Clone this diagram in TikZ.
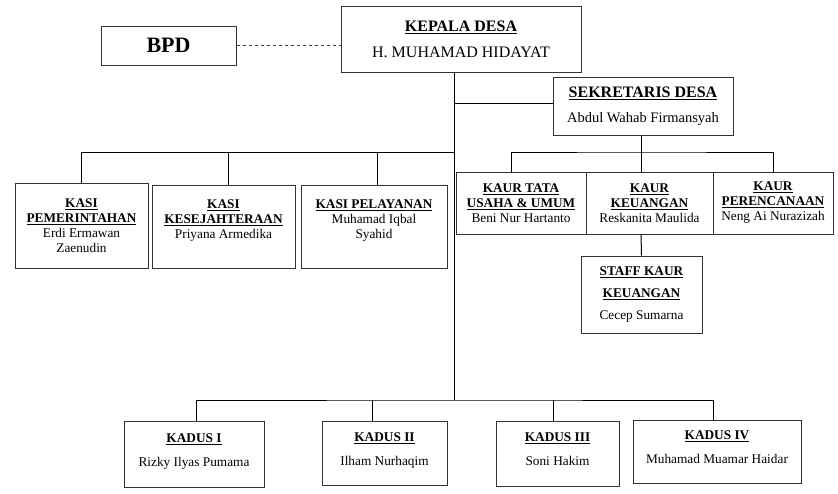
\documentclass[tikz,border=0pt]{standalone}
\usepackage{fontspec}
\setmainfont{Liberation Serif}
\usepackage{tikz}
\usetikzlibrary{positioning}

\newcommand{\jabatan}[1]{\textbf{\underline{#1}}}

\tikzset{
  box/.style={draw=black!80, line width=1pt, align=center, inner sep=1pt,
    font=\fontsize{13.3}{15}\selectfont},
  line/.style={black, line width=1pt},
  dashline/.style={black!75, line width=1pt, dash pattern=on 3.5pt off 2.5pt}
}

\begin{document}
\begin{tikzpicture}[x=1pt,y=-1pt]
\useasboundingbox (0,0) rectangle (838,493);

% top
\node[box, minimum width=135, minimum height=39, font=\fontsize{22}{24}\selectfont\bfseries] (bpd) at (168.5,45.5) {BPD};
\node[box, minimum width=240, minimum height=66, font=\fontsize{16}{19}\selectfont] (kepala) at (461,39) {\jabatan{KEPALA DESA}\\[7pt] H. MUHAMAD HIDAYAT};
\node[box, minimum width=180, minimum height=58, font=\fontsize{16}{19}\selectfont] (sekdes) at (643,106) {\jabatan{SEKRETARIS DESA}\\[6pt] {\fontsize{14.5}{17}\selectfont Abdul Wahab Firmansyah}};

% kasi
\node[box, minimum width=133, minimum height=85] (kasipem) at (81.5,225.5) {\jabatan{KASI}\\ \jabatan{PEMERINTAHAN}\\ Erdi Ermawan\\ Zaenudin};
\node[box, minimum width=143, minimum height=83] (kasikes) at (223.5,226.5) {\jabatan{KASI}\\ \jabatan{KESEJAHTERAAN}\\ Priyana Armedika\\ ~};
\node[box, minimum width=146, minimum height=83] (kasipel) at (374,226.5) {\jabatan{KASI PELAYANAN}\\ Muhamad Iqbal\\ Syahid\\ ~};

% kaur
\node[box, minimum width=130, minimum height=62] (kaurtu) at (521,203) {\jabatan{KAUR TATA}\\ \jabatan{USAHA \& UMUM}\\ Beni Nur Hartanto};
\node[box, minimum width=127, minimum height=62] (kaurkeu) at (649.5,203) {\jabatan{KAUR}\\ \jabatan{KEUANGAN}\\ Reskanita Maulida};
\node[box, minimum width=120, minimum height=62] (kaurren) at (773,203) {\jabatan{KAUR}\\ \jabatan{PERENCANAAN}\\ Neng Ai Nurazizah};
\node[box, minimum width=121, minimum height=77] (staffkeu) at (641.5,294.5) {\jabatan{STAFF KAUR}\\[7pt] \jabatan{KEUANGAN}\\[7pt] Cecep Sumarna};

% kadus
\node[box, minimum width=140, minimum height=66] (kadus1) at (194,454) {\jabatan{KADUS I}\\[9pt] Rizky Ilyas Pumama\\[-7pt] ~};
\node[box, minimum width=125, minimum height=64] (kadus2) at (384.5,453) {\jabatan{KADUS II}\\[9pt] Ilham Nurhaqim\\[-7pt] ~};
\node[box, minimum width=123, minimum height=65] (kadus3) at (557.5,453.5) {\jabatan{KADUS III}\\[9pt] Soni Hakim\\[-7pt] ~};
\node[box, minimum width=168, minimum height=63] (kadus4) at (717,451.5) {\jabatan{KADUS IV}\\[9pt] Muhamad Muamar Haidar\\[-7pt] ~};

\coordinate (kasibus) at (454,152);
\coordinate (kaurbus) at (641,152);
\coordinate (kadusbus) at (454,400);

% garis
\draw[dashline] (bpd.east) -- (bpd.east -| kepala.west);
\draw[line] (kepala.south -| kadusbus) -- (kadusbus);
\draw[line] (kepala.south -| kadusbus) |- ([yshift=3pt]sekdes.west);

\draw[line] (kasipem.north) |- (kasibus);
\draw[line] ([xshift=4.5pt]kasikes.north) -- ([xshift=4.5pt]kasikes.north |- kasibus);
\draw[line] ([xshift=3pt]kasipel.north) -- ([xshift=3pt]kasipel.north |- kasibus);

\draw[line] (sekdes.south -| kaurbus) -- (kaurbus);
\draw[line] ([xshift=-10pt]kaurtu.north) |- (kaurbus) -| (kaurren.north);
\draw[line] ([xshift=-8.5pt]kaurkeu.north) -- (kaurbus);
\draw[line] ([xshift=-8.5pt]kaurkeu.south) -- (staffkeu.north);

\draw[line] ([xshift=2pt]kadus1.north) |- (kadusbus) -| ([xshift=-4pt]kadus4.north);
\draw[line] ([xshift=-12.5pt]kadus2.north) -- ([xshift=-12.5pt]kadus2.north |- kadusbus);
\draw[line] ([xshift=-4.5pt]kadus3.north) -- ([xshift=-4.5pt]kadus3.north |- kadusbus);
\end{tikzpicture}
\end{document}
